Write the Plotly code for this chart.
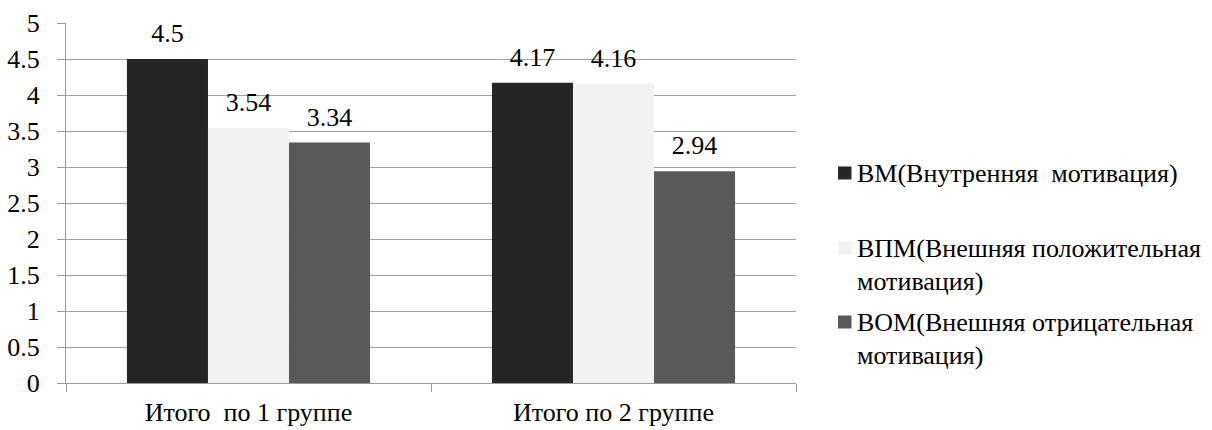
import plotly.graph_objects as go

# Group labels and mean scores for each motivation scale
categories = ["Итого\u00a0 по 1 группе", "Итого по 2 группе"]
vm_values = [4.5, 4.17]
vpm_values = [3.54, 4.16]
vom_values = [3.34, 2.94]
y_ticks = [0, 0.5, 1, 1.5, 2, 2.5, 3, 3.5, 4, 4.5, 5]

colors = ["#262626", "#f2f2f2", "#595959"]
FONT = "Liberation Serif"
FS = 26

W, H = 1212, 430
ML, MR, MT, MB = 66, 416, 23, 47
PW, PH = W - ML - MR, H - MT - MB


def px_x(px):
    return (px - ML) / PW


def px_y(py):
    return (H - MB - py) / PH


fig = go.Figure()
all_values = [vm_values, vpm_values, vom_values]
for i, (vals, col) in enumerate(zip(all_values, colors)):
    fig.add_trace(go.Bar(
        x=categories, y=vals, marker=dict(color=col, line=dict(width=0)),
        offsetgroup=str(i), showlegend=False, hoverinfo="skip",
    ))
    # value labels placed above each bar, aligned with the grouped bars
    fig.add_trace(go.Scatter(
        x=categories, y=vals, mode="markers+text",
        text=[f"{v:g}" for v in vals], textposition="top center",
        textfont=dict(family=FONT, size=FS, color="#000000"),
        marker=dict(size=15, opacity=0), offsetgroup=str(i),
        showlegend=False, hoverinfo="skip", cliponaxis=False,
    ))

# hand-drawn legend on the right
legend_rows = [
    (173, ["ВМ(Внутренняя\u00a0 мотивация)"]),
    (248, ["ВПМ(Внешняя положительная", "мотивация)"]),
    (322, ["ВОМ(Внешняя отрицательная", "мотивация)"]),
]
shapes = []
annotations = []
for (cy, lines), col in zip(legend_rows, colors):
    shapes.append(dict(
        type="rect", xref="paper", yref="paper",
        x0=px_x(838), x1=px_x(851.5), y0=px_y(cy - 6.5), y1=px_y(cy + 6.5),
        fillcolor=col, line=dict(width=0), layer="above",
    ))
    for k, line in enumerate(lines):
        baseline = cy + 9 + k * 33
        annotations.append(dict(
            xref="paper", yref="paper", x=px_x(855), y=px_y(baseline - 9),
            text=line, showarrow=False, xanchor="left", yanchor="middle",
            font=dict(family=FONT, size=FS, color="#000000"),
        ))

fig.update_layout(
    width=W, height=H,
    margin=dict(l=ML, r=MR, t=MT, b=MB, pad=0, autoexpand=False),
    paper_bgcolor="white", plot_bgcolor="white",
    barmode="group", bargap=0.334, bargroupgap=0,
    scattermode="group", scattergap=0.334,
    showlegend=False,
    font=dict(family=FONT, size=FS, color="#000000"),
    shapes=shapes, annotations=annotations,
)
fig.update_xaxes(
    type="category", showline=True, linecolor="#9a9a9a", linewidth=1.3,
    ticks="outside", tickson="boundaries", ticklen=8, tickcolor="#9a9a9a",
    tickwidth=1.3, showgrid=False, ticklabelstandoff=6, automargin=False,
    tickfont=dict(family=FONT, size=FS, color="#000000"),
)
fig.update_yaxes(
    range=[0, 5], tickvals=y_ticks, ticktext=[f"{t:g}" for t in y_ticks],
    showline=True, linecolor="#9a9a9a", linewidth=1.3,
    ticks="outside", ticklen=8, tickcolor="#9a9a9a", tickwidth=1.3,
    showgrid=True, gridcolor="#a0a0a0", gridwidth=1.3, zeroline=False,
    ticklabelstandoff=12, automargin=False,
    tickfont=dict(family=FONT, size=FS, color="#000000"),
)

fig.write_html("out.html")
